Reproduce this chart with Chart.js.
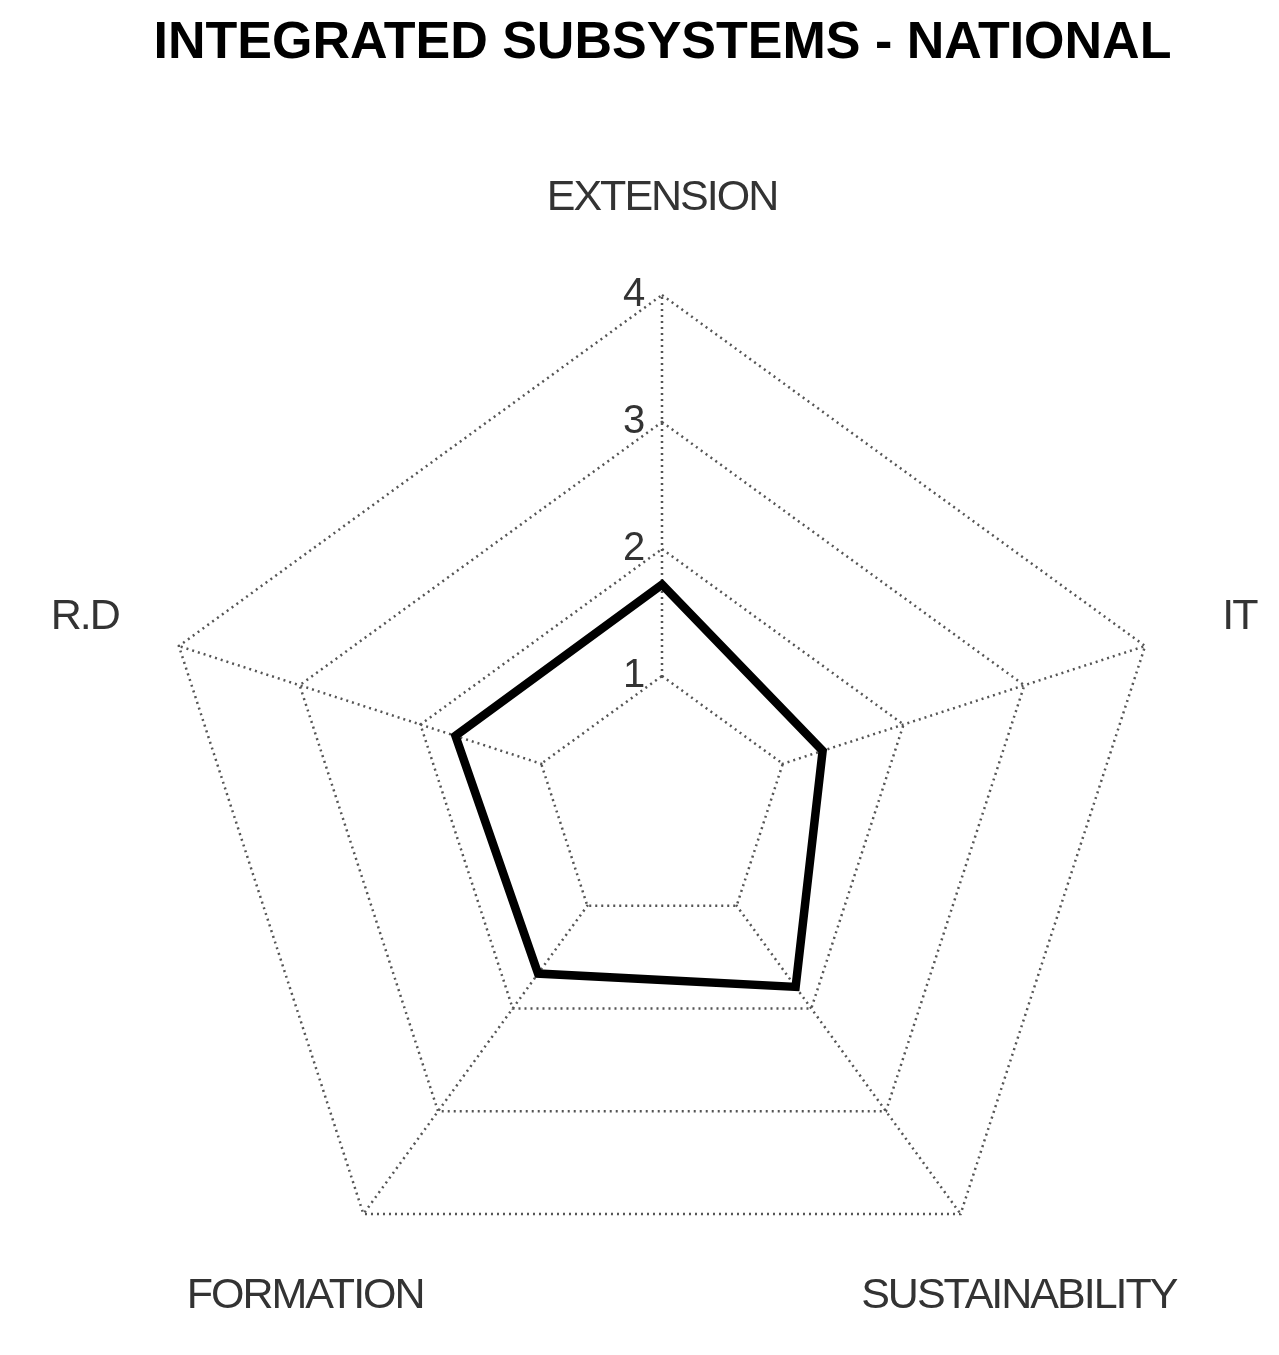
<!DOCTYPE html>
<html>
<head>
<meta charset="utf-8">
<script src="https://cdn.jsdelivr.net/npm/chart.js@4/dist/chart.umd.min.js"></script>
<style>
  html, body { margin: 0; padding: 0; background: #ffffff; }
  canvas { display: block; }
</style>
</head>
<body>
<canvas id="c" width="1279" height="1355"></canvas>
<script>
const titleText = 'INTEGRATED SUBSYSTEMS - NATIONAL';
const categories = ['EXTENSION', 'IT', 'SUSTAINABILITY', 'FORMATION', 'R.D'];
const values = [1.72, 1.33, 1.79, 1.66, 1.71];
const scaleMin = 0;
const scaleMax = 4;
const scaleStep = 1;
const innerAxisStart = 1;

const FONT = '"Liberation Sans", Arial, sans-serif';

// hides the axis spokes inside the innermost ring (axes start at level 1)
const innerBlankPlugin = {
  id: 'innerBlank',
  beforeDatasetsDraw(chart) {
    const scale = chart.scales.r;
    const ctx = chart.ctx;
    ctx.save();
    ctx.beginPath();
    categories.forEach((_, i) => {
      const p = scale.getPointPositionForValue(i, innerAxisStart - 0.03);
      if (i === 0) ctx.moveTo(p.x, p.y); else ctx.lineTo(p.x, p.y);
    });
    ctx.closePath();
    ctx.fillStyle = '#ffffff';
    ctx.fill();
    ctx.restore();
  }
};

const pointLabelPlugin = {
  id: 'centeredPointLabels',
  afterDraw(chart) {
    const scale = chart.scales.r;
    const ctx = chart.ctx;
    ctx.save();
    ctx.font = '43px ' + FONT;
    if ('letterSpacing' in ctx) ctx.letterSpacing = '-2px';
    ctx.fillStyle = '#333333';
    ctx.textAlign = 'center';
    ctx.textBaseline = 'middle';
    categories.forEach((lab, i) => {
      const p = scale.getPointPosition(i, scale.drawingArea * 1.195);
      ctx.fillText(lab, p.x, p.y + 2);
    });
    ctx.restore();
  }
};

new Chart(document.getElementById('c'), {
  type: 'radar',
  data: {
    labels: categories,
    datasets: [{
      data: values,
      borderColor: '#000000',
      borderWidth: 8.5,
      borderJoinStyle: 'miter',
      backgroundColor: 'rgba(0,0,0,0)',
      fill: false,
      pointRadius: 0,
      pointHoverRadius: 0,
      tension: 0
    }]
  },
  options: {
    responsive: false,
    animation: false,
    devicePixelRatio: 1,
    layout: { padding: { left: 134, right: 88, top: 0, bottom: 23 } },
    plugins: {
      legend: { display: false },
      tooltip: { enabled: false },
      title: {
        display: true,
        text: titleText,
        color: '#000000',
        font: { family: FONT, size: 52, weight: 'bold', lineHeight: 1.2 },
        padding: { top: 12, bottom: 201 }
      }
    },
    scales: {
      r: {
        min: scaleMin,
        max: scaleMax,
        startAngle: 0,
        beginAtZero: true,
        ticks: {
          stepSize: scaleStep,
          display: true,
          showLabelBackdrop: false,
          backdropPadding: 0,
          color: '#333333',
          font: { family: FONT, size: 40 },
          callback: (v) => String(v) + '     '
        },
        pointLabels: { display: false },
        grid: {
          color: '#555555',
          lineWidth: 2.5,
          borderDash: [2, 4]
        },
        border: { dash: [2, 4] },
        angleLines: {
          display: true,
          color: '#555555',
          lineWidth: 2.5,
          borderDash: [2, 4]
        }
      }
    }
  },
  plugins: [innerBlankPlugin, pointLabelPlugin]
});
</script>
</body>
</html>
